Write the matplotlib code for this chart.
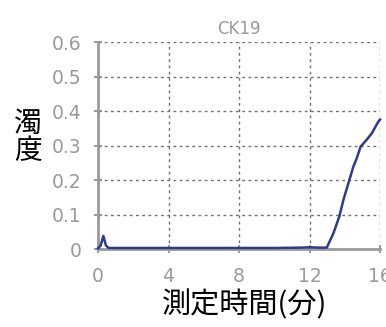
import matplotlib as mpl
mpl.use("Agg")
import matplotlib.pyplot as plt

# turbidity readings (CK19)
minutes = [0, 0.15, 0.3, 0.45, 0.6, 2, 4, 6, 8, 10, 11.5, 12, 12.5, 12.98,
           13.35, 13.69, 13.92, 14.26, 14.49, 14.68, 14.9, 15.15, 15.53, 15.9, 16]
turbidity = [0.002, 0.01, 0.038, 0.01, 0.003, 0.003, 0.003, 0.003, 0.003, 0.003,
             0.004, 0.005, 0.004, 0.004, 0.045, 0.094, 0.142, 0.2, 0.239, 0.263,
             0.297, 0.311, 0.335, 0.369, 0.375]

xticks = [0, 4, 8, 12, 16]
yticks = [0, 0.1, 0.2, 0.3, 0.4, 0.5, 0.6]
yticklabels = ["0", "0.1", "0.2", "0.3", "0.4", "0.5", "0.6"]

title = "CK19"
xlabel = "測定時間(分)"
ylabel = "濁度"

cjk = ["Noto Sans CJK JP", "DejaVu Sans"]
gray = "#9a9a9a"

fig = plt.figure(figsize=(3.86, 3.27), dpi=100)
ax = fig.add_axes([0.254, 0.2385, 0.7305, 0.633])

ax.plot(minutes, turbidity, color="#2e3b8c", lw=1.8, clip_on=False, zorder=5)

ax.set_xlim(0, 16)
ax.set_ylim(0, 0.6)
ax.set_xticks(xticks)
ax.set_yticks(yticks)
ax.set_yticklabels(yticklabels)

#dotted grid
ax.grid(True, color="#707070", linestyle=(0, (2, 2.5)), lw=1)
ax.set_axisbelow(True)

for s in ["top", "right"]:
    ax.spines[s].set_visible(False)
for s in ["left", "bottom"]:
    ax.spines[s].set_color("#9a9a9a")
    ax.spines[s].set_linewidth(2)

ax.tick_params(direction="inout", length=6, width=1.2, colors="#888888",
               labelsize=13.5, labelcolor=gray)
ax.tick_params(axis="x", pad=10)
ax.tick_params(axis="y", pad=9)

ax.set_title(title, color=gray, fontsize=12, pad=6)

fig.text(0.633, 0.068, xlabel, family=cjk, fontsize=21, ha="center", va="center")
for i, ch in enumerate(ylabel):
    fig.text(0.073, 0.622 - i * 0.083, ch, family=cjk, fontsize=20,
             ha="center", va="center")

fig.savefig("out.png", dpi=100)
